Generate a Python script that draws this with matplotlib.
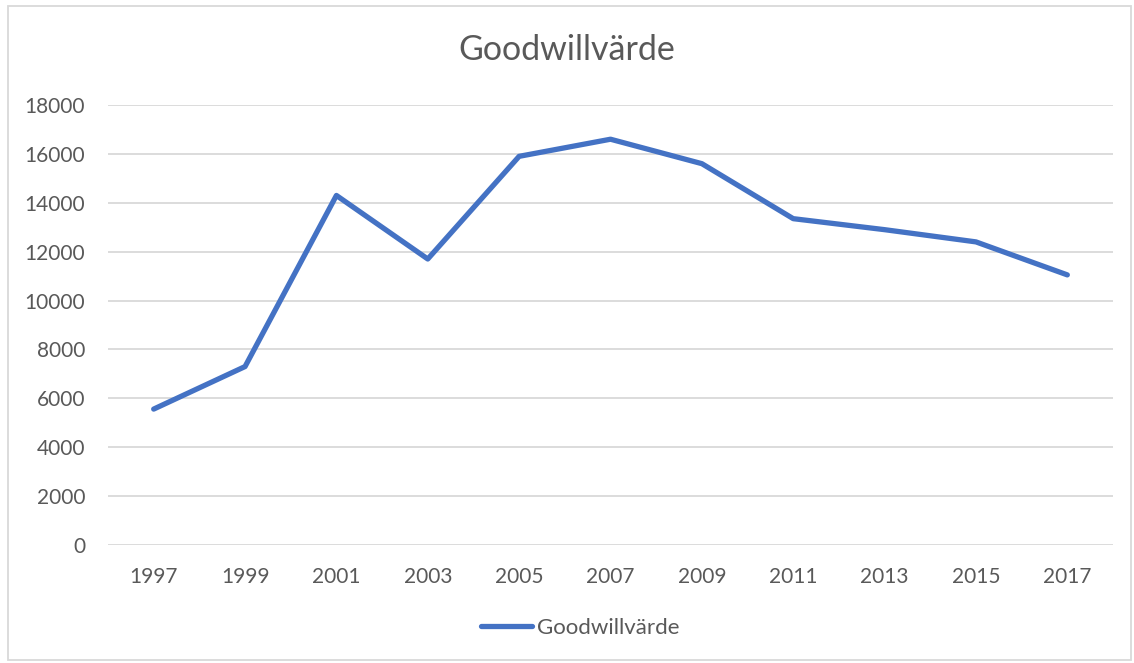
import matplotlib
matplotlib.use("Agg")
import matplotlib.pyplot as plt
from matplotlib.patches import Rectangle
from matplotlib.lines import Line2D

years = ["1997", "1999", "2001", "2003", "2005", "2007", "2009", "2011", "2013", "2015", "2017"]
values = [5560, 7300, 14300, 11700, 15900, 16600, 15600, 13350, 12900, 12400, 11050]
series_name = "Goodwillvärde"
title = "Goodwillvärde"
yticks = [0, 2000, 4000, 6000, 8000, 10000, 12000, 14000, 16000, 18000]

plt.rcParams['font.family'] = ['Lato', 'DejaVu Sans']
W, H = 1134, 663
fig = plt.figure(figsize=(W / 100, H / 100), dpi=100)
ax = fig.add_axes([108 / W, 1 - 545 / H, (1113 - 108) / W, (545 - 105) / H])

x = list(range(len(years)))
ax.plot(x, values, color="#4472C4", linewidth=3.8, solid_capstyle="round", solid_joinstyle="round", zorder=3)
ax.set_xlim(-0.5, len(years) - 0.5)
ax.set_ylim(0, 18000)
ax.set_yticks(yticks)
ax.set_yticklabels([str(v) for v in yticks])
ax.set_xticks(x)
ax.set_xticklabels(years)
ax.tick_params(axis="both", length=0, labelsize=15, colors="#595959")
ax.tick_params(axis="y", pad=16.5)
ax.tick_params(axis="x", pad=16)
ax.grid(axis="y", color="#D9D9D9", linewidth=1.3)
ax.set_axisbelow(True)
for s in ax.spines.values():
    s.set_visible(False)

fig.text(0.5, 1 - 50 / H, title, ha="center", va="center", fontsize=24.5, color="#595959")

# legend
handle = Line2D([0], [0], color="#4472C4", linewidth=3.8, solid_capstyle="round")
fig.legend([handle], [series_name], loc="center", bbox_to_anchor=(580 / W, 1 - 628 / H),
           frameon=False, fontsize=16, labelcolor="#595959", handlelength=2.3, handletextpad=0.2)

fig.patches.append(Rectangle((8 / W, 1 - 660 / H), (1131 - 8) / W, (660 - 6) / H,
                             transform=fig.transFigure, fill=False, edgecolor="#D9D9D9", linewidth=1.3))

fig.savefig("out.png", dpi=100, facecolor="white")
